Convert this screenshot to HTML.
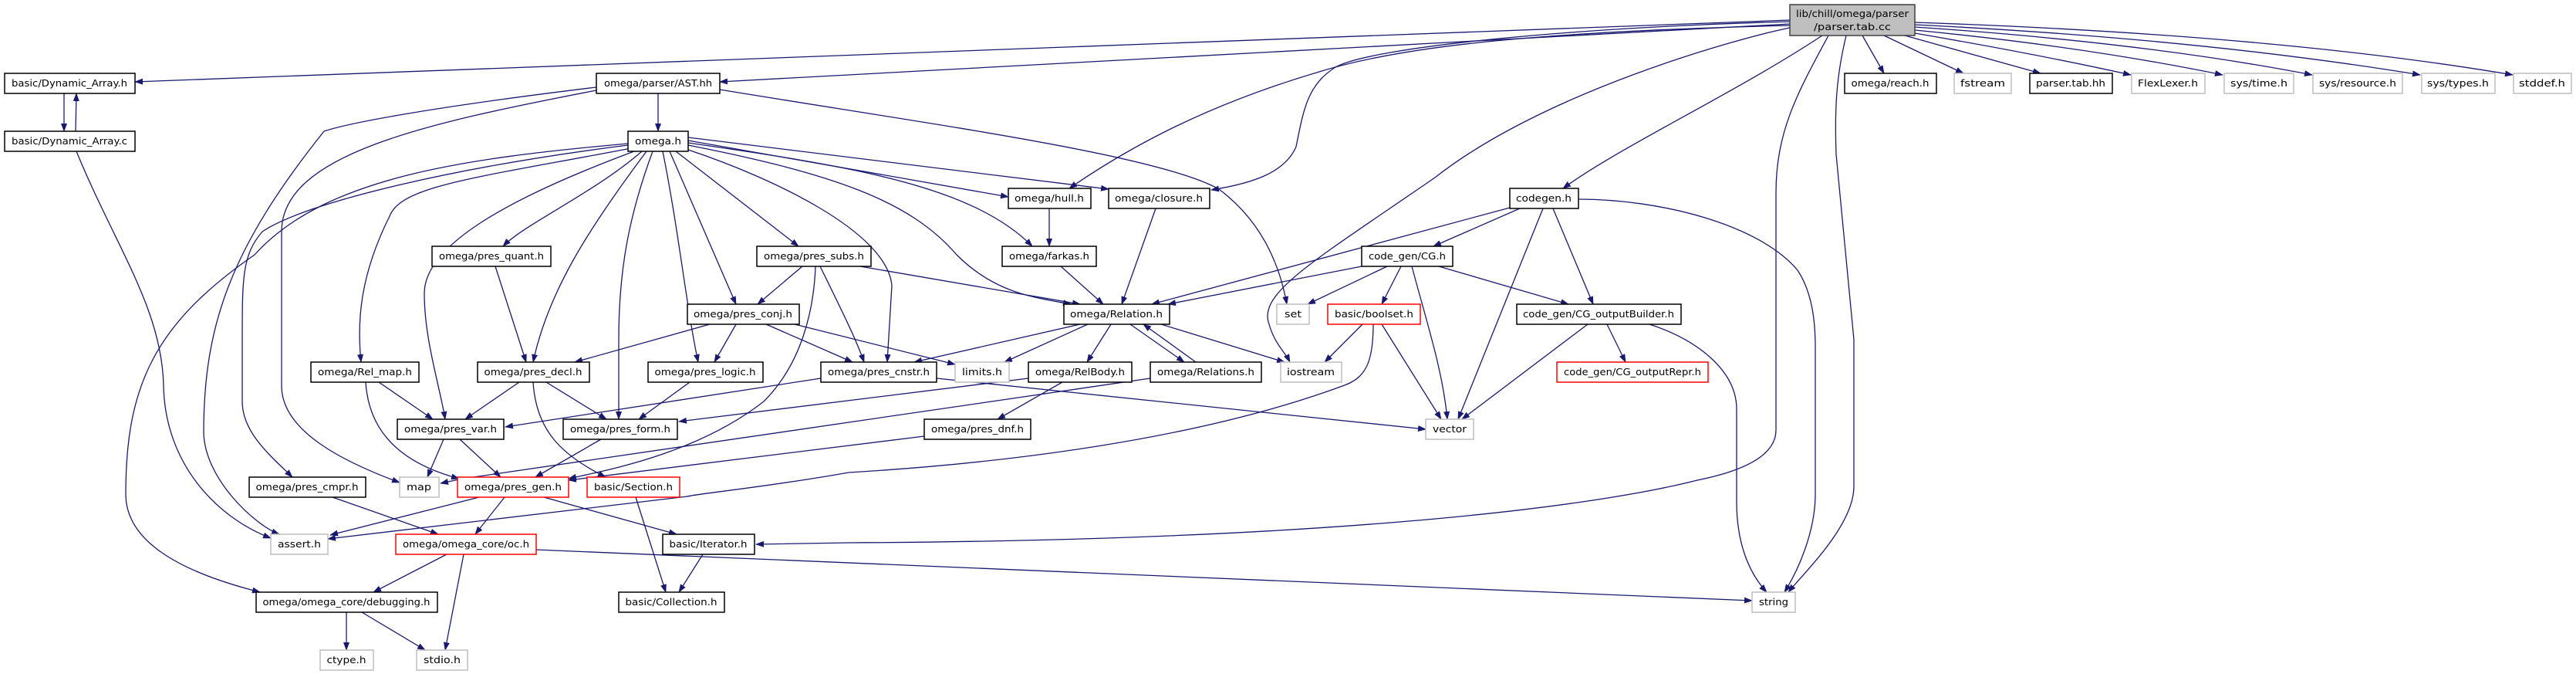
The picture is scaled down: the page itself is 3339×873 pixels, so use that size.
<!DOCTYPE html>
<html><head><meta charset="utf-8"><style>
html,body{margin:0;padding:0;background:#fff;}
svg{display:block;}
text{font-family:"DejaVu Sans","Liberation Sans",sans-serif;font-size:12px;fill:#000;text-anchor:middle;}
.e{fill:none;stroke:#191970;stroke-width:1.3;marker-end:url(#a);}
.n rect{fill:#fff;stroke:#000;stroke-width:1.5;}
.g rect{fill:#fff;stroke:#bfbfbf;stroke-width:1.5;}
.r rect{fill:#fff;stroke:#ff0000;stroke-width:1.5;}
</style></head><body>
<svg width="3339" height="873" viewBox="0 0 3339 873" xmlns="http://www.w3.org/2000/svg">
<defs><marker id="a" markerWidth="11" markerHeight="8" refX="10" refY="4" orient="auto" markerUnits="userSpaceOnUse"><path d="M0,0 L11,4 L0,8 z" fill="#191970"/></marker></defs>

<!-- edges from top node -->
<path class="e" d="M2320,26 L175,106"/>
<path class="e" d="M2320,31 L933,106"/>
<path class="e" d="M2320,33 C1950,42 1800,65 1710,93 C1550,140 1450,200 1386,244"/>
<path class="e" d="M2320,28 C2050,35 1780,60 1731,87 C1695,110 1690,140 1680,190 C1665,225 1620,238 1570,246"/>
<path class="e" d="M2362,46 C2250,120 2100,190 2026,244"/>
<path class="e" d="M2320,36 C2250,50 2000,120 1860,230 C1700,340 1630,380 1645,420 C1652,445 1665,455 1672,469"/>
<path class="e" d="M2370,46 C2330,120 2302,170 2302,250 L2302,557 C2302,590 2260,610 2200,622 C2050,660 1700,700 1100,703 L980,705"/>
<path class="e" d="M2393,46 C2380,100 2378,140 2380,200 L2403,440 L2403,630 C2403,680 2340,740 2318,767"/>
<path class="e" d="M2414,46 L2442,95"/>
<path class="e" d="M2442,46 L2545,95"/>
<path class="e" d="M2469,46 L2645,95"/>
<path class="e" d="M2482,43 Q2640,70 2762,97"/>
<path class="e" d="M2482,39 Q2700,60 2881,97"/>
<path class="e" d="M2482,35 Q2780,55 2997,97"/>
<path class="e" d="M2482,32 Q2850,50 3137,97"/>
<path class="e" d="M2482,29 Q2950,45 3257,97"/>

<!-- AST / Dynamic_Array -->
<path class="e" d="M853,121 L853,170"/>
<path class="e" d="M933,116 C1200,160 1500,200 1580,245 C1640,290 1660,350 1668,394"/>
<path class="e" d="M773,113 C550,140 450,160 420,170 C300,320 264,420 264,560 C265,620 330,680 362,692"/>
<path class="e" d="M773,117 C550,160 365,200 365,300 L365,500 C365,560 450,600 518,625"/>
<path class="e" d="M83,121 L83,170"/>
<path class="e" d="M98,170 L99,121"/>
<path class="e" d="M99,196 C150,320 210,400 212,500 C214,600 280,670 351,697"/>

<!-- omega.h -->
<path class="e" d="M814,186 C600,205 420,230 330,330 C200,420 163,500 163,640 C163,700 230,740 337,767"/>
<path class="e" d="M814,188 C600,215 400,260 340,300 C314,330 314,360 314,440 L314,520 C314,560 350,590 379,618"/>
<path class="e" d="M818,192 C620,230 520,240 505,280 C465,360 463,420 468,469"/>
<path class="e" d="M822,196 C650,260 550,320 550,380 C550,440 570,500 577,543"/>
<path class="e" d="M838,196 C760,300 710,380 691,469"/>
<path class="e" d="M832,196 C770,250 680,290 652,319"/>
<path class="e" d="M846,196 C815,280 802,350 802,440 L802,543"/>
<path class="e" d="M859,196 C880,300 890,400 905,469"/>
<path class="e" d="M868,196 L954,394"/>
<path class="e" d="M876,196 L1035,319"/>
<path class="e" d="M892,194 C1000,230 1150,300 1156,370 L1150,469"/>
<path class="e" d="M892,182 L1307,255"/>
<path class="e" d="M892,178 L1437,245"/>
<path class="e" d="M892,185 C1100,215 1260,240 1338,319"/>
<path class="e" d="M892,188 C1080,225 1180,260 1240,330 C1290,380 1340,385 1388,394"/>

<!-- second tier -->
<path class="e" d="M642,345 L682,469"/>
<path class="e" d="M1040,345 L982,394"/>
<path class="e" d="M1063,345 C1090,400 1110,440 1120,469"/>
<path class="e" d="M1057,345 C1055,400 1040,470 990,520 C900,590 780,610 737,620"/>
<path class="e" d="M1115,345 L1400,394"/>
<path class="e" d="M920,420 L745,469"/>
<path class="e" d="M954,420 L926,469"/>
<path class="e" d="M993,420 L1105,469"/>
<path class="e" d="M1030,420 L1238,472"/>
<path class="e" d="M673,495 L603,543"/>
<path class="e" d="M708,495 L786,543"/>
<path class="e" d="M691,495 C695,560 730,590 785,618"/>
<path class="e" d="M894,495 L828,543"/>
<path class="e" d="M491,495 L561,543"/>
<path class="e" d="M474,495 C478,560 520,600 595,620"/>
<path class="e" d="M575,569 L554,618"/>
<path class="e" d="M596,569 L649,618"/>
<path class="e" d="M779,569 L694,618"/>
<path class="e" d="M1064,490 L655,553"/>
<path class="e" d="M1214,490 L1848,556"/>
<path class="e" d="M621,644 L428,693"/>
<path class="e" d="M654,644 L616,692"/>
<path class="e" d="M705,644 L877,692"/>
<path class="e" d="M824,644 L863,767"/>
<path class="e" d="M911,718 L880,767"/>
<path class="e" d="M431,644 L568,692"/>
<path class="e" d="M579,718 L484,767"/>
<path class="e" d="M601,718 L577,842"/>
<path class="e" d="M695,712 L2271,778"/>
<path class="e" d="M449,793 L449,842"/>
<path class="e" d="M469,793 L551,842"/>

<!-- right cluster -->
<path class="e" d="M1360,270 L1360,319"/>
<path class="e" d="M1375,345 L1430,394"/>
<path class="e" d="M1498,270 L1454,394"/>
<path class="e" d="M1970,270 L1858,319"/>
<path class="e" d="M1957,269 L1493,394"/>
<path class="e" d="M2000,270 L1890,543"/>
<path class="e" d="M2013,270 L2065,394"/>
<path class="e" d="M2046,258 C2150,258 2280,290 2330,350 C2350,380 2353,420 2353,450 L2353,640 C2353,690 2330,740 2313,767"/>
<path class="e" d="M2138,420 C2200,440 2251,480 2251,530 L2251,650 C2251,700 2265,740 2290,767"/>
<path class="e" d="M1765,345 L1514,394"/>
<path class="e" d="M1798,345 L1695,394"/>
<path class="e" d="M1816,345 L1791,394"/>
<path class="e" d="M1830,345 C1850,420 1870,480 1876,543"/>
<path class="e" d="M1865,345 L2033,394"/>
<path class="e" d="M1766,420 L1717,469"/>
<path class="e" d="M1791,420 L1868,543"/>
<path class="e" d="M1780,420 C1780,470 1770,490 1740,500 C1550,570 1300,600 1100,612 C1000,630 900,640 891,643 L425,698"/>
<path class="e" d="M2083,420 L2107,469"/>
<path class="e" d="M2058,420 L1895,543"/>
<path class="e" d="M1400,420 L1185,469"/>
<path class="e" d="M1410,420 L1302,469"/>
<path class="e" d="M1440,420 L1409,469"/>
<path class="e" d="M1465,420 L1535,469"/>
<path class="e" d="M1550,469 L1482,420"/>
<path class="e" d="M1505,420 L1665,469"/>
<path class="e" d="M1377,495 L1293,543"/>
<path class="e" d="M1333,490 L880,546"/>
<path class="e" d="M1491,490 L600,620 L571,626"/>
<path class="e" d="M1198,565 L737,622"/>

<!-- nodes -->
<g><rect x="2320" y="6" width="162" height="40" fill="#bfbfbf" stroke="#404040" stroke-width="1.5"/>
<text x="2401" y="22" textLength="146" lengthAdjust="spacingAndGlyphs">lib/chill/omega/parser</text>
<text x="2401" y="39" textLength="100" lengthAdjust="spacingAndGlyphs">/parser.tab.cc</text></g>

<g class="n"><rect x="6" y="95" width="169" height="26"/><text x="90" y="112" textLength="150" lengthAdjust="spacingAndGlyphs">basic/Dynamic_Array.h</text></g>
<g class="n"><rect x="773" y="95" width="160" height="26"/><text x="853" y="112" textLength="140" lengthAdjust="spacingAndGlyphs">omega/parser/AST.hh</text></g>
<g class="n"><rect x="2391" y="95" width="119" height="26"/><text x="2450" y="112" textLength="101" lengthAdjust="spacingAndGlyphs">omega/reach.h</text></g>
<g class="g"><rect x="2533" y="95" width="74" height="26"/><text x="2570" y="112" textLength="58" lengthAdjust="spacingAndGlyphs">fstream</text></g>
<g class="n"><rect x="2631" y="95" width="107" height="26"/><text x="2684" y="112" textLength="90" lengthAdjust="spacingAndGlyphs">parser.tab.hh</text></g>
<g class="g"><rect x="2763" y="95" width="95" height="26"/><text x="2810" y="112" textLength="78" lengthAdjust="spacingAndGlyphs">FlexLexer.h</text></g>
<g class="g"><rect x="2883" y="95" width="90" height="26"/><text x="2928" y="112" textLength="74" lengthAdjust="spacingAndGlyphs">sys/time.h</text></g>
<g class="g"><rect x="2998" y="95" width="116" height="26"/><text x="3056" y="112" textLength="100" lengthAdjust="spacingAndGlyphs">sys/resource.h</text></g>
<g class="g"><rect x="3139" y="95" width="95" height="26"/><text x="3186" y="112" textLength="80" lengthAdjust="spacingAndGlyphs">sys/types.h</text></g>
<g class="g"><rect x="3258" y="95" width="75" height="26"/><text x="3295" y="112" textLength="60" lengthAdjust="spacingAndGlyphs">stddef.h</text></g>

<g class="n"><rect x="6" y="170" width="169" height="26"/><text x="90" y="187" textLength="150" lengthAdjust="spacingAndGlyphs">basic/Dynamic_Array.c</text></g>
<g class="n"><rect x="814" y="170" width="78" height="26"/><text x="853" y="187" textLength="60" lengthAdjust="spacingAndGlyphs">omega.h</text></g>

<g class="n"><rect x="1307" y="244" width="107" height="26"/><text x="1360" y="261" textLength="90" lengthAdjust="spacingAndGlyphs">omega/hull.h</text></g>
<g class="n"><rect x="1437" y="244" width="131" height="26"/><text x="1502" y="261" textLength="114" lengthAdjust="spacingAndGlyphs">omega/closure.h</text></g>
<g class="n"><rect x="1957" y="244" width="89" height="26"/><text x="2001" y="261" textLength="72" lengthAdjust="spacingAndGlyphs">codegen.h</text></g>

<g class="n"><rect x="560" y="319" width="154" height="26"/><text x="637" y="336" textLength="136" lengthAdjust="spacingAndGlyphs">omega/pres_quant.h</text></g>
<g class="n"><rect x="981" y="319" width="148" height="26"/><text x="1055" y="336" textLength="130" lengthAdjust="spacingAndGlyphs">omega/pres_subs.h</text></g>
<g class="n"><rect x="1299" y="319" width="122" height="26"/><text x="1360" y="336" textLength="104" lengthAdjust="spacingAndGlyphs">omega/farkas.h</text></g>
<g class="n"><rect x="1765" y="319" width="118" height="26"/><text x="1824" y="336" textLength="100" lengthAdjust="spacingAndGlyphs">code_gen/CG.h</text></g>

<g class="n"><rect x="891" y="394" width="145" height="26"/><text x="963" y="411" textLength="128" lengthAdjust="spacingAndGlyphs">omega/pres_conj.h</text></g>
<g class="n"><rect x="1379" y="394" width="137" height="26"/><text x="1447" y="411" textLength="120" lengthAdjust="spacingAndGlyphs">omega/Relation.h</text></g>
<g class="g"><rect x="1655" y="394" width="42" height="26"/><text x="1676" y="411" textLength="22" lengthAdjust="spacingAndGlyphs">set</text></g>
<g class="r"><rect x="1721" y="394" width="120" height="26"/><text x="1781" y="411" textLength="102" lengthAdjust="spacingAndGlyphs">basic/boolset.h</text></g>
<g class="n"><rect x="1966" y="394" width="213" height="26"/><text x="2072" y="411" textLength="196" lengthAdjust="spacingAndGlyphs">code_gen/CG_outputBuilder.h</text></g>

<g class="n"><rect x="403" y="469" width="140" height="26"/><text x="473" y="486" textLength="122" lengthAdjust="spacingAndGlyphs">omega/Rel_map.h</text></g>
<g class="n"><rect x="619" y="469" width="145" height="26"/><text x="691" y="486" textLength="127" lengthAdjust="spacingAndGlyphs">omega/pres_decl.h</text></g>
<g class="n"><rect x="840" y="469" width="149" height="26"/><text x="914" y="486" textLength="131" lengthAdjust="spacingAndGlyphs">omega/pres_logic.h</text></g>
<g class="n"><rect x="1064" y="469" width="150" height="26"/><text x="1139" y="486" textLength="132" lengthAdjust="spacingAndGlyphs">omega/pres_cnstr.h</text></g>
<g class="g"><rect x="1238" y="469" width="70" height="26"/><text x="1273" y="486" textLength="52" lengthAdjust="spacingAndGlyphs">limits.h</text></g>
<g class="n"><rect x="1333" y="469" width="134" height="26"/><text x="1400" y="486" textLength="116" lengthAdjust="spacingAndGlyphs">omega/RelBody.h</text></g>
<g class="n"><rect x="1491" y="469" width="144" height="26"/><text x="1563" y="486" textLength="126" lengthAdjust="spacingAndGlyphs">omega/Relations.h</text></g>
<g class="g"><rect x="1660" y="469" width="79" height="26"/><text x="1699" y="486" textLength="62" lengthAdjust="spacingAndGlyphs">iostream</text></g>
<g class="r"><rect x="2018" y="469" width="196" height="26"/><text x="2116" y="486" textLength="178" lengthAdjust="spacingAndGlyphs">code_gen/CG_outputRepr.h</text></g>

<g class="n"><rect x="515" y="543" width="138" height="26"/><text x="584" y="560" textLength="120" lengthAdjust="spacingAndGlyphs">omega/pres_var.h</text></g>
<g class="n"><rect x="730" y="543" width="148" height="26"/><text x="804" y="560" textLength="130" lengthAdjust="spacingAndGlyphs">omega/pres_form.h</text></g>
<g class="n"><rect x="1198" y="543" width="138" height="26"/><text x="1267" y="560" textLength="120" lengthAdjust="spacingAndGlyphs">omega/pres_dnf.h</text></g>
<g class="g"><rect x="1848" y="543" width="62" height="26"/><text x="1879" y="560" textLength="44" lengthAdjust="spacingAndGlyphs">vector</text></g>

<g class="n"><rect x="323" y="618" width="151" height="26"/><text x="398" y="635" textLength="133" lengthAdjust="spacingAndGlyphs">omega/pres_cmpr.h</text></g>
<g class="g"><rect x="518" y="618" width="51" height="26"/><text x="543" y="635" textLength="32" lengthAdjust="spacingAndGlyphs">map</text></g>
<g class="r"><rect x="593" y="618" width="144" height="26"/><text x="665" y="635" textLength="126" lengthAdjust="spacingAndGlyphs">omega/pres_gen.h</text></g>
<g class="r"><rect x="761" y="618" width="120" height="26"/><text x="821" y="635" textLength="102" lengthAdjust="spacingAndGlyphs">basic/Section.h</text></g>

<g class="g"><rect x="351" y="692" width="74" height="26"/><text x="388" y="709" textLength="56" lengthAdjust="spacingAndGlyphs">assert.h</text></g>
<g class="r"><rect x="513" y="692" width="182" height="26"/><text x="604" y="709" textLength="164" lengthAdjust="spacingAndGlyphs">omega/omega_core/oc.h</text></g>
<g class="n"><rect x="859" y="692" width="119" height="26"/><text x="918" y="709" textLength="101" lengthAdjust="spacingAndGlyphs">basic/Iterator.h</text></g>

<g class="n"><rect x="332" y="767" width="235" height="26"/><text x="449" y="784" textLength="217" lengthAdjust="spacingAndGlyphs">omega/omega_core/debugging.h</text></g>
<g class="n"><rect x="802" y="767" width="137" height="26"/><text x="870" y="784" textLength="119" lengthAdjust="spacingAndGlyphs">basic/Collection.h</text></g>
<g class="g"><rect x="2271" y="767" width="56" height="26"/><text x="2299" y="784" textLength="38" lengthAdjust="spacingAndGlyphs">string</text></g>

<g class="g"><rect x="415" y="842" width="69" height="26"/><text x="449" y="859" textLength="51" lengthAdjust="spacingAndGlyphs">ctype.h</text></g>
<g class="g"><rect x="540" y="842" width="66" height="26"/><text x="573" y="859" textLength="48" lengthAdjust="spacingAndGlyphs">stdio.h</text></g>
</svg>
</body></html>
